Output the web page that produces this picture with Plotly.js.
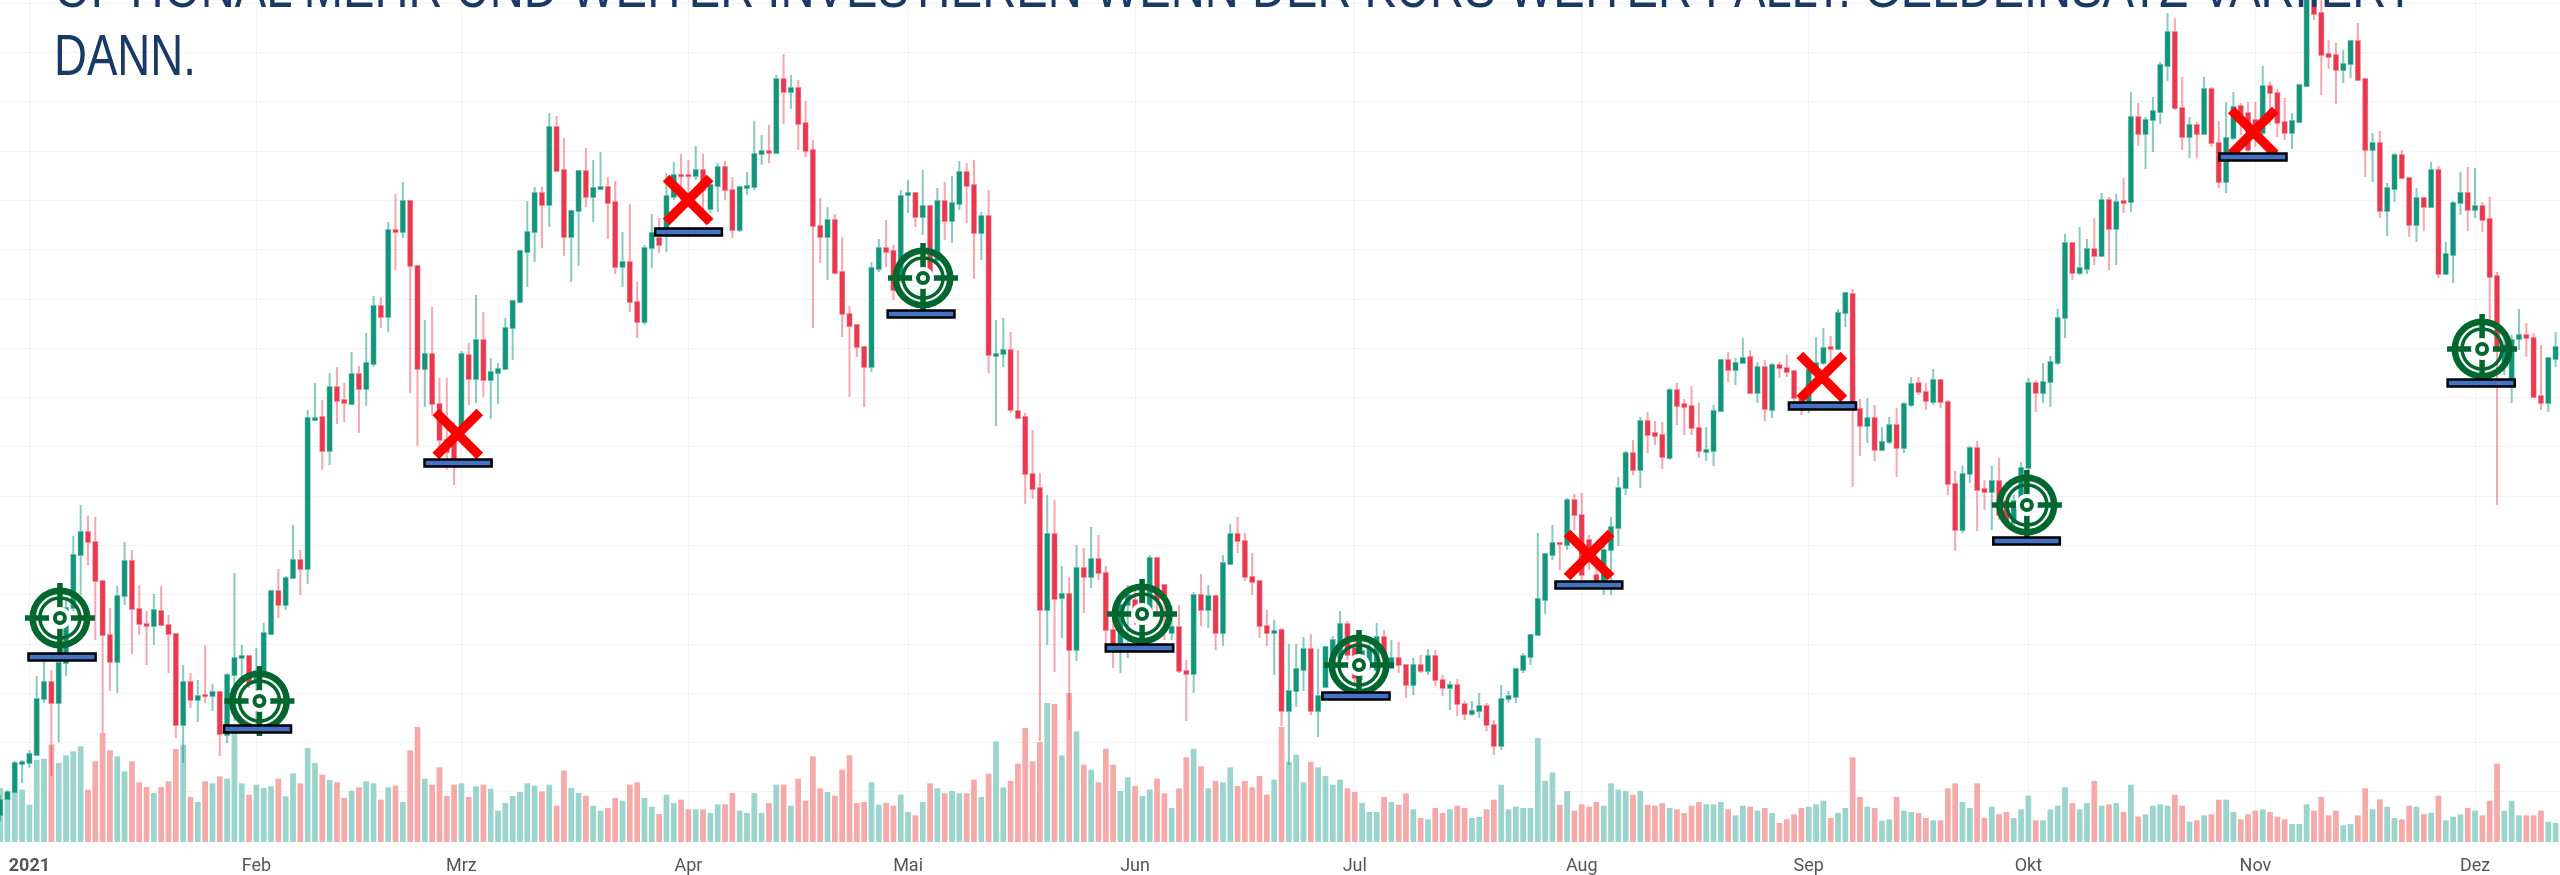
<!DOCTYPE html>
<html><head><meta charset="utf-8">
<style>html,body{margin:0;padding:0;background:#fff;overflow:hidden}#chart{width:2560px;height:875px;filter:blur(0.5px)}</style>
<script src="https://cdn.plot.ly/plotly-3.0.0.min.js"></script>
</head><body><div id="chart"></div>
<script>
const firstDay = '2020-12-28';
const openValues = [
185,201,208,236,237,245,301,318,297,337,
392,445,468,458,419,365,338,404,439,391,
376,374,389,375,366,275,318,300,305,304,
308,265,325,342,344,317,329,366,409,395,
422,440,431,580,583,549,613,600,596,626,
611,636,694,683,770,768,799,734,631,646,
596,560,560,570,645,621,660,620,627,631,
672,698,748,768,807,795,873,830,763,789,
829,803,811,813,798,733,738,698,678,752,
762,767,803,825,825,824,830,791,814,833,
810,770,812,813,846,849,847,921,908,912,
877,850,774,763,780,728,686,675,653,633,
731,752,749,720,805,807,783,794,740,799,
779,796,828,815,767,784,644,646,650,589,
583,526,512,390,466,402,406,350,432,423,
441,427,370,357,395,400,388,390,442,415,
367,373,329,326,405,390,404,367,436,466,
459,423,419,374,367,370,289,309,330,351,
289,313,332,342,376,352,329,333,330,363,
332,342,335,315,335,329,344,320,312,315,
296,286,289,294,275,254,301,303,330,343,
365,400,445,457,455,500,485,460,425,419,
450,472,512,547,530,579,567,565,542,610,
596,594,572,548,549,589,640,630,637,643,
607,633,590,635,632,629,602,595,630,637,
653,651,687,706,591,574,582,550,558,575,
552,595,617,608,598,620,598,516,470,526,
552,511,508,519,499,477,492,532,617,607,
618,637,682,757,727,731,751,744,800,771,
799,798,883,866,880,888,934,968,892,863,
875,866,911,857,818,862,894,887,880,867,
914,907,878,867,878,914,1008,987,946,945,
930,936,959,921,850,857,789,811,845,822,
775,802,793,830,726,745,797,807,790,794,
781,724,635,620,661,665,662,604,597,641
];
const highValues = [
205,210,239,240,250,324,342,330,349,402,
464,495,484,483,420,392,414,458,450,415,
389,406,414,385,367,335,327,320,355,316,
308,327,427,355,345,352,377,409,431,424,
475,450,590,617,600,627,633,617,648,634,
667,704,703,778,806,818,800,735,680,693,
622,622,578,649,657,705,688,642,637,682,
700,750,799,813,813,887,884,862,789,829,
852,840,848,823,819,768,796,718,755,786,
782,827,838,846,840,854,846,815,837,839,
823,813,828,879,865,875,925,946,925,920,
899,860,802,793,786,763,694,675,654,738,
761,780,755,810,820,808,830,794,812,818,
824,839,837,840,788,810,680,682,668,650,
587,570,527,505,500,434,423,455,452,473,
465,434,380,400,415,410,415,445,442,416,
395,395,340,408,426,415,405,445,476,483,
467,447,419,390,380,372,356,356,363,366,
351,352,364,389,379,360,355,360,377,370,
360,358,335,342,345,351,350,325,319,321,
299,299,307,297,280,315,309,332,347,366,
467,446,475,457,502,506,507,465,435,455,
483,523,549,560,583,588,579,578,612,617,
601,614,597,573,595,641,648,642,662,650,
638,640,637,638,645,630,608,635,663,672,
664,691,708,711,601,602,595,573,583,592,
598,623,623,617,631,620,600,529,534,554,
559,520,534,542,503,505,538,622,620,637,
644,691,766,757,773,761,782,807,803,806,
822,908,897,883,903,938,987,982,923,883,
878,923,913,879,898,908,897,898,898,934,
918,911,902,887,915,1010,1012,1000,960,957,
950,960,977,921,867,869,817,847,850,822,
812,803,838,834,758,799,828,833,832,798,
803,728,670,665,691,677,667,655,643,668
];
const lowValues = [
179,200,208,217,232,244,297,224,258,324,
389,405,435,360,267,309,307,395,346,365,
335,355,374,327,262,237,292,278,297,289,
244,257,279,322,312,275,327,365,382,390,
422,405,416,579,530,535,576,578,596,567,
594,633,672,668,730,762,607,554,593,585,
542,530,515,565,595,597,603,581,596,631,
640,697,713,738,752,773,829,744,718,734,
793,778,810,761,726,713,688,662,675,732,
747,748,800,800,805,820,785,787,788,800,
762,768,805,810,835,837,847,876,891,850,
843,672,737,720,727,663,603,643,593,628,
728,733,700,717,787,773,765,713,735,760,
757,790,777,721,740,627,574,633,587,582,
496,501,259,355,328,362,280,339,387,412,
420,350,332,327,342,375,375,380,385,360,
360,327,279,307,374,372,350,354,435,447,
419,405,362,354,325,274,235,293,309,285,
263,313,328,340,340,315,320,330,340,330,
332,327,302,305,327,325,314,304,290,284,
280,284,282,269,245,250,297,297,327,335,
364,386,440,430,450,470,420,430,417,405,
405,454,505,525,512,547,555,531,540,575,
565,565,542,539,534,588,618,615,637,606,
597,579,582,622,623,595,585,587,628,635,
625,650,673,513,544,557,539,550,556,523,
547,593,605,590,595,592,505,449,467,517,
469,490,470,480,475,472,488,530,588,597,
593,635,662,720,725,726,735,743,730,735,
787,788,854,831,848,876,919,890,850,842,
842,865,853,812,807,860,865,840,853,865,
875,863,860,851,877,913,980,905,931,896,
917,922,920,823,818,782,764,798,822,763,
758,769,792,722,725,717,785,769,782,768,
680,495,625,597,650,643,602,590,588,633
];
const closeValues = [
200,208,237,238,246,301,318,297,337,392,
445,468,458,419,365,338,404,439,391,376,
374,390,375,366,275,318,300,304,304,308,
266,325,342,344,317,329,367,409,395,422,
440,431,582,582,549,613,599,597,626,611,
637,694,683,770,768,799,734,631,646,596,
560,548,540,646,621,660,620,628,631,672,
699,749,768,807,795,873,829,763,789,829,
803,812,813,797,733,738,698,678,752,767,
755,804,825,824,824,830,810,815,833,810,
770,813,814,846,849,847,921,908,912,876,
849,774,763,780,727,686,674,653,633,732,
752,748,710,804,807,783,794,717,799,779,
797,828,814,767,784,645,646,650,590,582,
526,511,390,466,401,406,350,432,423,441,
427,370,357,395,405,390,405,442,400,403,
373,329,326,405,390,404,367,437,466,459,
423,418,374,367,369,289,309,331,351,289,
304,353,360,376,345,322,349,352,363,343,
342,335,315,335,329,344,320,312,315,296,
286,289,294,275,254,301,304,331,344,365,
401,446,457,456,500,485,425,440,419,450,
473,512,547,530,579,565,564,543,610,594,
593,572,549,550,589,640,630,637,642,607,
633,591,635,632,628,602,590,630,637,652,
651,687,707,592,574,582,550,558,575,552,
596,616,608,599,620,598,516,470,526,552,
510,508,519,485,479,499,532,617,607,618,
638,682,757,727,732,751,744,800,771,798,
797,883,866,880,889,935,968,892,863,875,
866,911,857,818,862,893,880,850,865,914,
907,877,867,879,915,1005,986,945,943,930,
936,959,920,850,857,789,812,845,822,775,
802,793,830,726,746,797,807,790,794,780,
723,650,655,660,665,662,603,597,642,653
];
const volumeValues = [
162,147,149,157,112,247,250,292,237,260,
272,287,157,242,327,275,257,212,242,179,
165,147,165,182,279,292,135,120,182,176,
197,190,327,176,142,172,162,167,190,137,
206,176,282,237,202,186,179,132,154,164,
182,176,127,164,169,120,275,345,190,172,
224,138,172,176,135,167,172,160,94,117,
138,150,176,169,152,172,109,214,162,147,
139,109,94,102,132,124,172,179,132,106,
84,142,117,127,98,98,98,87,113,113,
147,94,87,147,87,117,172,172,109,190,
124,257,161,150,139,217,260,117,120,179,
112,117,109,142,90,80,120,176,161,146,
153,146,146,187,135,205,302,164,183,235,
342,242,300,417,414,260,447,332,232,217,
179,280,232,153,194,168,138,157,190,146,
102,161,254,279,227,161,183,179,224,168,
183,164,198,142,187,345,240,262,179,240,
224,198,172,187,161,150,117,90,90,135,
120,112,146,98,72,68,102,87,98,109,
102,72,75,98,127,172,98,106,102,102,
312,183,209,112,153,94,113,106,120,109,
176,157,153,142,153,112,109,116,102,98,
87,109,120,113,113,120,98,80,109,106,
94,102,87,57,68,83,102,106,113,124,
72,87,102,254,135,106,102,64,68,135,
94,90,87,72,65,65,161,176,120,102,
176,72,106,83,90,72,98,139,65,65,
98,109,164,117,98,117,183,109,113,117,
90,172,76,83,109,113,109,142,109,61,
65,80,83,127,127,90,68,83,94,98,
90,76,68,54,54,113,94,135,80,94,
50,54,80,161,98,128,106,72,68,109,
106,83,87,139,65,76,83,102,94,80,
124,235,94,124,80,80,80,94,61,57
];
const monthTicks = ['2021-01-01','2021-02-01','2021-03-01','2021-04-01','2021-05-01','2021-06-01','2021-07-01','2021-08-01','2021-09-01','2021-10-01','2021-11-01','2021-12-01'];
const monthLabels = ['<b>2021</b>','Feb','Mrz','Apr','Mai','Jun','Jul','Aug','Sep','Okt','Nov','Dez'];
const gridPrices = [997,948,899,849,800,751,701,652,603,554,504,455,406,356,307,258,209];

const entryDates = ['2021-01-05 04:00','2021-02-01 10:00','2021-05-03 01:00','2021-06-01 23:00','2021-07-01 14:00','2021-09-30 19:00','2021-12-01 23:00'];
const entryPrices = [382,299,722,386,335,495,651];
const stopDates = ['2021-02-28 12:00','2021-03-31 23:00','2021-08-02 00:00','2021-09-02 19:00','2021-10-31 17:00'];
const stopPrices = [566,800,445,623,868];
const zoneStarts = ['2020-12-31 21:00','2021-01-27 14:00','2021-04-28 05:00','2021-05-28 00:00','2021-06-26 14:00','2021-09-26 05:00','2021-11-27 06:00','2021-02-23 23:00','2021-03-27 11:00','2021-07-28 10:00','2021-08-29 07:00','2021-10-27 02:00'];
const zoneEnds = ['2021-01-10 01:00','2021-02-05 17:30','2021-05-07 08:00','2021-06-06 05:00','2021-07-05 18:00','2021-10-05 07:00','2021-12-06 10:00','2021-03-05 03:00','2021-04-05 14:00','2021-08-06 13:00','2021-09-07 11:00','2021-11-05 06:00'];
const zoneLevels = [343,271,686,352,304,459,617,537,768,415,594,843];

const titleLine = 'OPTIONAL MEHR UND WEITER INVESTIEREN WENN DER KURS WEITER FÄLLT. GELDEINSATZ VARIIERT';
const titleRest = 'DANN.';

const upColor = '#12957a', downColor = '#e8394f';
const dates = openValues.map((_, i) => new Date(Date.parse(firstDay + 'T00:00:00Z') + i * 864e5).toISOString().slice(0, 10));
const volumeColors = openValues.map((o, i) => closeValues[i] >= o ? '#9ad4cc' : '#f5a9a9');
const targetGreen = '#02662f';

function targetLayer(symbol, size, width, color) {
  return {type: 'scatter', mode: 'markers', x: entryDates, y: entryPrices, yaxis: 'y2', hoverinfo: 'skip', showlegend: false,
    marker: {symbol, size, color, line: {color: symbol.endsWith('open') || symbol.endsWith('thin') ? targetGreen : color, width}}};
}

const traces = [
  {type: 'bar', name: 'Volumen', x: dates, y: volumeValues, marker: {color: volumeColors, line: {width: 0}}, hoverinfo: 'skip', showlegend: false},
  {type: 'candlestick', name: 'Kurs', x: dates, open: openValues, high: highValues, low: lowValues, close: closeValues, yaxis: 'y2',
    increasing: {line: {color: 'rgba(18,149,122,0.5)', width: 2}, fillcolor: upColor},
    decreasing: {line: {color: 'rgba(232,57,79,0.45)', width: 2}, fillcolor: downColor},
    whiskerwidth: 0, hoverinfo: 'skip', showlegend: false},
  {type: 'candlestick', name: 'Kerzenkörper', x: dates, open: openValues, close: closeValues,
    high: openValues.map((o, i) => Math.max(o, closeValues[i])), low: openValues.map((o, i) => Math.min(o, closeValues[i])), yaxis: 'y2',
    increasing: {line: {color: upColor, width: 0.6}, fillcolor: upColor},
    decreasing: {line: {color: downColor, width: 0.6}, fillcolor: downColor},
    whiskerwidth: 0, hoverinfo: 'skip', showlegend: false},
  targetLayer('cross-thin', 50, 5.5, targetGreen),
  targetLayer('circle-open', 54.5, 6.5, targetGreen),
  targetLayer('circle-open', 40, 3.5, targetGreen),
  targetLayer('circle', 22, 0, '#ffffff'),
  targetLayer('circle-open', 10, 4, targetGreen),
  {type: 'scatter', mode: 'markers', x: stopDates, y: stopPrices, yaxis: 'y2', hoverinfo: 'skip', showlegend: false,
    marker: {symbol: 'x-thin', size: 44, color: '#ff0000', line: {color: '#ff0000', width: 9.5}}}
];

const zoneShapes = zoneStarts.map((s, i) => ({type: 'rect', xref: 'x', yref: 'y2', x0: s, x1: zoneEnds[i], y0: zoneLevels[i] - 3.5, y1: zoneLevels[i] + 3.5,
  line: {color: '#000000', width: 2.5}, fillcolor: '#4472c4', layer: 'above'}));

const titleFont = {family: '"Liberation Sans",sans-serif', size: 57, color: '#1a3a66'};
const layout = {
  width: 2560, height: 875, autosize: false,
  margin: {l: 0, r: 0, t: 0, b: 33, pad: 0},
  paper_bgcolor: '#ffffff', plot_bgcolor: '#ffffff',
  showlegend: false, bargap: 0.22, boxgap: 0.24, boxmode: 'overlay',
  xaxis: {type: 'date', range: ['2020-12-27 23:38', '2021-12-12 14:24'], tickmode: 'array', tickvals: monthTicks, ticktext: monthLabels,
    showgrid: true, gridcolor: '#f3f3f5', gridwidth: 1, zeroline: false, showline: false,
    ticks: 'outside', ticklen: 6, tickcolor: 'rgba(0,0,0,0)', tickangle: 0, tickfont: {family: 'Roboto, sans-serif', size: 18, color: '#555555'},
    rangeslider: {visible: false}, fixedrange: true},
  yaxis: {range: [0, 2526], showgrid: false, zeroline: false, showticklabels: false, ticks: '', showline: false, fixedrange: true},
  yaxis2: {overlaying: 'y', side: 'right', range: [158, 1000], tickmode: 'array', tickvals: gridPrices, showgrid: true, gridcolor: '#f3f3f5', gridwidth: 1,
    zeroline: false, showticklabels: false, ticks: '', showline: false, fixedrange: true},
  shapes: zoneShapes,
  annotations: [
    {xref: 'paper', yref: 'paper', x: 53 / 2560, xanchor: 'left', y: (842 - 8) / 842, yanchor: 'bottom', showarrow: false, align: 'left', text: titleLine, font: titleFont, borderpad: 0, yshift: -12},
    {xref: 'paper', yref: 'paper', x: 53 / 2560, xanchor: 'left', y: (842 - 76) / 842, yanchor: 'bottom', showarrow: false, align: 'left', text: titleRest, font: titleFont, borderpad: 0, yshift: -12}
  ]
};
if ([highValues, lowValues, closeValues, volumeValues].some(a => a.length !== openValues.length)) {
  throw new Error('length mismatch ' + [openValues, highValues, lowValues, closeValues, volumeValues].map(a => a.length).join(','));
}
Plotly.newPlot('chart', traces, layout, {displayModeBar: false, staticPlot: true}).then(() => {
  // The reference title is a condensed face: narrow the drawn text to its measured width.
  const widths = [2361, 142];
  document.querySelectorAll('.annotation-text').forEach((t, i) => {
    const box = t.getBBox();
    t.setAttribute('transform', `translate(${box.x} 0) scale(${widths[i] / box.width} 1) translate(${-box.x} 0)`);
  });
});
</script></body></html>
